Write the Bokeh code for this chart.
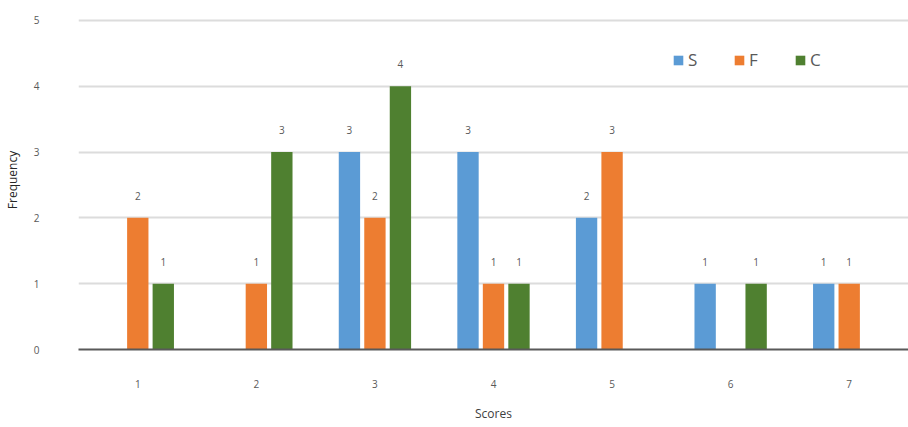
from bokeh.plotting import figure
from bokeh.models import ColumnDataSource, Range1d, FixedTicker, Legend, LegendItem
from bokeh.transform import dodge
from bokeh.core.properties import value
from bokeh.embed import file_html
from bokeh.resources import INLINE

scores = [1, 2, 3, 4, 5, 6, 7]
s_vals = [0, 0, 3, 3, 2, 1, 1]
f_vals = [2, 1, 2, 1, 3, 0, 1]
c_vals = [1, 3, 4, 1, 0, 1, 0]
series_names = ["S", "F", "C"]
colors = ["#5B9BD5", "#ED7D31", "#4F8030"]

FONT = "Open Sans"

p = figure(width=908, height=427, output_backend="svg", toolbar_location=None,
           x_range=Range1d(0.5, 7.5), y_range=Range1d(0, 5.15),
           min_border_left=72, min_border_right=0, min_border_top=10, min_border_bottom=78)
p.outline_line_color = None
p.background_fill_color = "white"
p.border_fill_color = "white"

source = ColumnDataSource(dict(score=scores, S=s_vals, F=f_vals, C=c_vals))
offsets = [-0.215, 0.0, 0.215]
renderers = []
for name, col, off, vals in zip(series_names, colors, offsets, [s_vals, f_vals, c_vals]):
    r = p.vbar(x=dodge("score", off, range=p.x_range), top=name, width=0.18, source=source,
               fill_color=col, line_color=None)
    renderers.append(r)
    xs = [x for x, v in zip(scores, vals) if v > 0]
    ys = [v for v in vals if v > 0]
    lab = ColumnDataSource(dict(x=xs, y=ys, t=[str(v) for v in ys]))
    p.text(x=dodge("x", off, range=p.x_range), y="y", text="t", source=lab,
           text_align="center", text_baseline="middle", y_offset=-22,
           text_font=value(FONT), text_font_size="10px", text_color="#595959")

# axes
p.xaxis.ticker = FixedTicker(ticks=scores)
p.xaxis.axis_line_color = "#595959"
p.xaxis.axis_line_width = 2
p.xaxis.major_tick_line_color = None
p.xaxis.minor_tick_line_color = None
p.xaxis.major_label_standoff = 24
p.xaxis.major_label_text_font = FONT
p.xaxis.major_label_text_font_size = "10px"
p.xaxis.major_label_text_color = "#595959"
p.xaxis.axis_label = "Scores"
p.xaxis.axis_label_text_font = FONT
p.xaxis.axis_label_text_font_style = "normal"
p.xaxis.axis_label_text_font_size = "12px"
p.xaxis.axis_label_text_color = "#404040"
p.xaxis.axis_label_standoff = 14

p.yaxis.ticker = FixedTicker(ticks=[0, 1, 2, 3, 4, 5])
p.yaxis.axis_line_color = None
p.yaxis.major_tick_line_color = None
p.yaxis.minor_tick_line_color = None
p.yaxis.major_label_standoff = 33
p.yaxis.major_label_text_font = FONT
p.yaxis.major_label_text_font_size = "10px"
p.yaxis.major_label_text_color = "#595959"
p.yaxis.axis_label = "Frequency"
p.yaxis.axis_label_text_font = FONT
p.yaxis.axis_label_text_font_style = "normal"
p.yaxis.axis_label_text_font_size = "12px"
p.yaxis.axis_label_text_color = "#262626"
p.yaxis.axis_label_standoff = 10

p.xgrid.grid_line_color = None
p.ygrid.grid_line_color = "#dcdcdc"
p.ygrid.grid_line_width = 2

legend = Legend(items=[LegendItem(label=n, renderers=[r]) for n, r in zip(series_names, renderers)],
                orientation="horizontal", location=(594, 278),
                glyph_width=12, glyph_height=12, label_standoff=4, spacing=35,
                label_text_font=FONT, label_text_font_size="17px", label_text_color="#595959",
                padding=0, margin=0, border_line_color=None, background_fill_alpha=0,
                label_width=10)
p.add_layout(legend)

open("out.html", "w").write(file_html(p, INLINE))
